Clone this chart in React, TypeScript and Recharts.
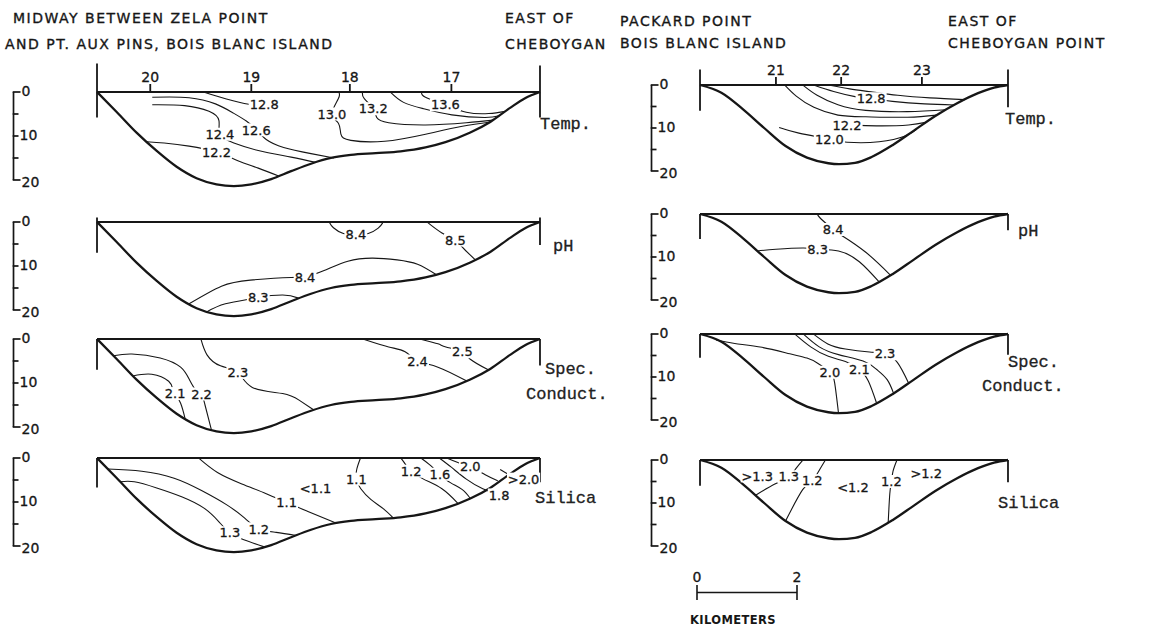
import React from 'react';
import { ComposedChart, Line, Scatter, XAxis, YAxis, ReferenceLine } from 'recharts';

type Pt = [number, number];
type Contour = { v: string; pts: Pt[] };
type Tag = { x: number; d: number; t: string };

const INK = '#161616';
const SANS = '"DejaVu Sans", Verdana, sans-serif';
const MONO = '"Liberation Mono", "DejaVu Sans Mono", monospace';
const MAX_DEPTH = 22;

// stations along the two transects (km from the west end of each section)
const zelaStations = [1.07, 3.1, 5.08, 7.12];
const zelaStationNames = ['20', '19', '18', '17'];
const packardStations = [1.42, 2.64, 4.15];
const packardStationNames = ['21', '22', '23'];
const depthTicks = [0, 5, 10, 15, 20];
const scaleKm = [0, 2];

// lake bottom, [km, depth m]
const zelaBottom: Pt[] = [
  [0, 0], [0.4, 4.6], [0.8, 9.3], [1.2, 13.4], [1.6, 17.0], [2.0, 19.6], [2.4, 21.0], [2.75, 21.4],
  [3.1, 21.0], [3.5, 19.8], [3.9, 18.0], [4.3, 16.3], [4.7, 15.0], [5.1, 14.3], [5.6, 13.9], [6.1, 13.5],
  [6.6, 12.6], [7.0, 11.4], [7.5, 9.2], [7.9, 6.8], [8.3, 3.6], [8.6, 1.4], [8.9, 0],
];
const packardBottom: Pt[] = [
  [0, 0], [0.4, 1.8], [0.8, 5.6], [1.2, 10.0], [1.6, 14.2], [2.0, 16.9], [2.4, 18.2], [2.6, 18.4],
  [2.9, 18.1], [3.2, 16.8], [3.6, 14.0], [4.0, 10.6], [4.4, 7.2], [4.8, 4.3], [5.2, 1.9], [5.5, 0.6], [5.76, 0],
];

// --- Zela Point section ---
const zelaTemp: Contour[] = [
  { v: '12.2', pts: [[1.0, 11.3], [1.35, 11.6], [1.85, 12.3], [2.4, 13.7], [2.83, 15.6], [3.24, 17.3], [3.65, 19.1]] },
  { v: '12.4', pts: [[1.11, 2.9], [1.76, 3.1], [2.25, 4.4], [2.45, 6.5], [2.47, 9.6], [2.75, 11.6], [3.24, 13.3], [3.9, 14.8], [4.39, 16.0]] },
  { v: '12.6', pts: [[1.11, 1.2], [1.85, 1.3], [2.38, 2.7], [2.71, 4.6], [3.0, 6.6], [3.2, 8.6], [3.4, 10.8], [3.75, 12.6], [4.3, 14.0], [4.76, 15.0]] },
  { v: '12.8', pts: [[2.17, 0.1], [2.6, 1.6], [3.05, 2.8], [3.3, 2.9]] },
  { v: '13.0', pts: [[4.86, 0.1], [4.85, 1.5], [4.72, 5.0], [4.85, 7.1], [4.9, 9.6], [5.1, 11.0], [5.78, 11.2], [6.6, 9.6], [7.34, 7.8], [7.9, 6.8]] },
  { v: '13.2', pts: [[5.33, 0.1], [5.37, 1.5], [5.55, 3.8], [5.62, 5.8], [5.86, 7.0], [6.6, 7.5], [7.42, 7.0], [7.96, 6.4]] },
  { v: '13.4', pts: [[5.9, 0.1], [6.15, 2.3], [6.56, 3.8], [7.13, 5.2], [7.79, 5.8], [8.08, 5.4]] },
  { v: '13.6', pts: [[6.52, 0.1], [6.6, 1.2], [7.0, 2.9], [7.42, 4.6], [7.87, 4.9], [8.2, 4.4]] },
];
const zelaTempTags: Tag[] = [
  { x: 2.4, d: 13.7, t: '12.2' }, { x: 2.47, d: 9.6, t: '12.4' }, { x: 3.2, d: 8.6, t: '12.6' },
  { x: 3.36, d: 2.9, t: '12.8' }, { x: 4.72, d: 5.0, t: '13.0' }, { x: 5.55, d: 3.8, t: '13.2' }, { x: 7.0, d: 2.9, t: '13.6' },
];

const zelaPH: Contour[] = [
  { v: '8.4', pts: [[4.67, 0.1], [4.75, 1.3], [4.95, 2.6], [5.2, 2.9], [5.45, 2.6], [5.65, 1.4], [5.74, 0.2]] },
  { v: '8.5', pts: [[6.64, 0.1], [6.93, 2.5], [7.2, 4.1], [7.34, 5.7], [7.6, 8.6]] },
  { v: '8.4', pts: [[1.85, 18.6], [2.5, 14.6], [3.08, 13.2], [3.9, 12.6], [4.18, 12.5], [4.55, 11.1], [5.04, 8.9], [5.54, 8.2], [6.03, 8.6], [6.44, 9.6], [6.82, 12.0]] },
  { v: '8.3', pts: [[2.21, 20.4], [2.58, 18.6], [3.08, 17.5], [3.24, 17.1], [3.73, 16.6], [4.05, 17.3]] },
];
const zelaPHTags: Tag[] = [
  { x: 5.2, d: 2.9, t: '8.4' }, { x: 7.2, d: 4.1, t: '8.5' }, { x: 4.18, d: 12.5, t: '8.4' }, { x: 3.24, d: 17.1, t: '8.3' },
];

const zelaCond: Contour[] = [
  { v: '2.1', pts: [[0.72, 8.4], [1.1, 8.0], [1.44, 9.6], [1.52, 11.4], [1.57, 12.4], [1.68, 14.6], [1.77, 18.1]] },
  { v: '2.2', pts: [[0.33, 3.8], [0.7, 3.4], [1.27, 4.3], [1.68, 6.4], [1.86, 9.3], [2.0, 11.8], [2.1, 12.5], [2.17, 15.0], [2.3, 20.7]] },
  { v: '2.3', pts: [[2.09, 0.1], [2.21, 3.6], [2.48, 6.1], [2.83, 7.6], [3.12, 11.0], [3.73, 12.4], [4.06, 13.9], [4.35, 16.1]] },
  { v: '2.4', pts: [[5.37, 0.1], [5.86, 1.8], [6.19, 2.9], [6.44, 5.0], [6.85, 6.4], [7.42, 9.5]] },
  { v: '2.5', pts: [[6.52, 0.1], [6.85, 1.1], [7.01, 1.8], [7.34, 2.9], [7.5, 4.6], [7.86, 7.0]] },
];
const zelaCondTags: Tag[] = [
  { x: 1.57, d: 12.4, t: '2.1' }, { x: 2.1, d: 12.5, t: '2.2' }, { x: 2.83, d: 7.6, t: '2.3' },
  { x: 6.44, d: 5.0, t: '2.4' }, { x: 7.34, d: 2.9, t: '2.5' },
];

const zelaSilica: Contour[] = [
  { v: '1.3', pts: [[0.47, 5.4], [0.75, 5.4], [1.2, 6.8], [1.7, 8.8], [2.15, 11.4], [2.45, 14.5], [2.67, 17.0], [2.95, 18.6], [3.36, 20.2]] },
  { v: '1.2', pts: [[0.22, 2.5], [0.9, 3.0], [1.55, 4.6], [2.1, 7.4], [2.6, 10.6], [2.95, 13.5], [3.25, 16.1], [3.6, 16.9], [4.0, 17.6]] },
  { v: '1.1', pts: [[2.05, 0.1], [2.42, 3.3], [2.91, 5.9], [3.4, 8.1], [3.81, 10.1], [4.25, 12.2], [4.8, 14.8]] },
  { v: '1.1', pts: [[5.29, 0.1], [5.22, 2.5], [5.21, 4.8], [5.3, 7.0], [5.5, 9.4], [5.75, 11.5], [5.95, 13.6]] },
  { v: '1.2', pts: [[6.11, 0.1], [6.2, 1.5], [6.31, 3.0], [6.56, 4.8], [6.93, 7.0], [7.25, 10.3]] },
  { v: '1.6', pts: [[6.52, 0.1], [6.68, 1.5], [6.89, 3.7], [7.1, 5.6], [7.34, 7.2], [7.5, 9.2]] },
  { v: '1.8', pts: [[6.89, 0.1], [7.13, 2.2], [7.42, 4.8], [7.75, 7.0], [8.08, 8.4]] },
  { v: '2.0', pts: [[7.05, 0.1], [7.25, 1.0], [7.5, 2.0], [7.8, 3.8], [8.05, 5.2]] },
  { v: '>2.0', pts: [[8.1, 2.6], [8.35, 4.3]] },
];
const zelaSilicaTags: Tag[] = [
  { x: 2.67, d: 17.0, t: '1.3' }, { x: 3.25, d: 16.1, t: '1.2' }, { x: 3.81, d: 10.1, t: '1.1' },
  { x: 4.39, d: 7.0, t: '<1.1' }, { x: 5.21, d: 4.8, t: '1.1' }, { x: 6.31, d: 3.0, t: '1.2' },
  { x: 6.89, d: 3.7, t: '1.6' }, { x: 7.5, d: 2.0, t: '2.0' }, { x: 8.08, d: 8.4, t: '1.8' }, { x: 8.57, d: 4.8, t: '>2.0' },
];

// --- Packard Point section ---
const packardTemp: Contour[] = [
  { v: '12.0', pts: [[1.48, 9.9], [1.85, 11.2], [2.42, 12.6], [2.75, 13.3], [3.35, 13.2], [3.85, 11.8], [4.05, 10.3]] },
  { v: '12.2', pts: [[2.6, 9.3], [2.75, 9.3], [3.3, 9.5], [3.9, 9.3], [4.22, 8.7]] },
  { v: '12.4', pts: [[1.59, 0.1], [1.8, 2.6], [2.13, 5.2], [2.58, 7.0], [3.1, 7.4], [3.88, 7.5], [4.42, 7.0]] },
  { v: '12.6', pts: [[1.93, 0.1], [2.19, 2.4], [2.58, 4.6], [3.1, 5.9], [3.88, 6.2], [4.6, 5.75]] },
  { v: '12.8', pts: [[2.15, 0.1], [2.5, 1.5], [2.9, 2.7], [3.2, 3.2], [3.6, 3.8], [4.2, 4.4], [4.75, 4.65]] },
  { v: '13.0', pts: [[2.45, 0.1], [2.8, 0.9], [3.2, 1.6], [3.7, 2.4], [4.3, 3.0], [4.95, 3.4]] },
];
const packardTempTags: Tag[] = [
  { x: 3.2, d: 3.2, t: '12.8' }, { x: 2.75, d: 9.3, t: '12.2' }, { x: 2.42, d: 12.6, t: '12.0' },
];

const packardPH: Contour[] = [
  { v: '8.4', pts: [[2.2, 0.1], [2.26, 1.1], [2.49, 3.6], [2.65, 5.0], [3.1, 8.9], [3.56, 14.2]] },
  { v: '8.3', pts: [[1.07, 8.6], [1.42, 8.2], [1.94, 7.9], [2.2, 8.2], [2.59, 8.6], [2.98, 11.1], [3.35, 15.8]] },
];
const packardPHTags: Tag[] = [{ x: 2.49, d: 3.6, t: '8.4' }, { x: 2.2, d: 8.2, t: '8.3' }];

const packardCond: Contour[] = [
  { v: '2.0', pts: [[0.3, 1.4], [0.65, 2.2], [1.16, 3.1], [1.68, 4.6], [2.0, 5.6], [2.2, 6.8], [2.43, 8.9], [2.52, 11.5], [2.59, 18.4]] },
  { v: '2.1', pts: [[1.78, 0.1], [2.07, 3.0], [2.4, 5.2], [2.72, 6.4], [2.98, 8.2], [3.15, 11.0], [3.3, 16.0]] },
  { v: '2.2', pts: [[1.94, 0.1], [2.23, 3.0], [2.59, 4.8], [3.05, 6.3], [3.3, 8.2], [3.5, 10.6], [3.62, 13.8]] },
  { v: '2.3', pts: [[2.13, 0.1], [2.39, 2.3], [2.72, 3.5], [3.17, 4.2], [3.46, 4.6], [3.69, 6.6], [3.9, 11.4]] },
];
const packardCondTags: Tag[] = [
  { x: 2.43, d: 8.9, t: '2.0' }, { x: 2.98, d: 8.2, t: '2.1' }, { x: 3.46, d: 4.6, t: '2.3' },
];

const packardSilica: Contour[] = [
  { v: '1.3', pts: [[1.92, 0.1], [1.8, 1.9], [1.66, 3.9], [1.4, 5.6], [1.04, 8.2]] },
  { v: '1.2', pts: [[2.34, 0.1], [2.22, 2.6], [2.1, 4.8], [1.92, 6.9], [1.6, 14.2]] },
  { v: '1.2', pts: [[3.68, 0.1], [3.61, 2.6], [3.58, 5.0], [3.55, 7.8], [3.52, 14.5]] },
];
const packardSilicaTags: Tag[] = [
  { x: 1.07, d: 3.7, t: '>1.3' }, { x: 1.66, d: 3.9, t: '1.3' }, { x: 2.1, d: 4.8, t: '1.2' },
  { x: 2.86, d: 6.3, t: '<1.2' }, { x: 3.58, d: 5.0, t: '1.2' }, { x: 4.23, d: 3.0, t: '>1.2' },
];

type Geo = { bracketX: number; frameL: number; frameR: number; xMax: number; ppm: number };
const ZELA: Geo = { bracketX: 12, frameL: 97, frameR: 540, xMax: 8.9, ppm: 4.4 };
const PACKARD: Geo = { bracketX: 650, frameL: 700, frameR: 1008, xMax: 5.76, ppm: 4.3 };

const charW = (c: string) => (c === '.' ? 0.32 : c === '<' || c === '>' ? 0.8 : 0.64);

function TagShape(p: any) {
  const t: string = p.payload.t;
  const w = t.split('').reduce((s, c) => s + charW(c) * 13, 0) + 2;
  return (
    <g>
      <rect x={p.cx - w / 2} y={p.cy - 6.5} width={w} height={13} fill="#fff" />
      <text
        x={p.cx}
        y={p.cy}
        dy="0.36em"
        textAnchor="middle"
        fontSize={13}
        fontFamily={SANS}
        fill={INK}
        stroke={INK}
        strokeWidth={0.3}
      >
        {t}
      </text>
    </g>
  );
}

function DepthTick(p: any) {
  const v: number = p.payload.value;
  const y: number = p.y;
  const x0 = 1.5;
  const len = v === 0 || v === 20 ? 7 : 5;
  return (
    <g>
      {v > 0 && <line x1={x0} x2={x0} y1={y} y2={y - p.step} stroke={INK} strokeWidth={1.7} />}
      <line x1={x0 - 0.8} x2={x0 + len} y1={y} y2={y} stroke={INK} strokeWidth={1.7} />
      {v % 10 === 0 && (
        <text
          x={x0 + len + 1}
          y={y + (v === 20 ? 2 : -1)}
          dy="0.36em"
          fontSize={14}
          fontFamily={SANS}
          fill={INK}
          stroke={INK}
          strokeWidth={0.3}
        >
          {v}
        </text>
      )}
    </g>
  );
}

type SectionProps = {
  geo: Geo;
  axisY: number;
  bottom: Pt[];
  contours: Contour[];
  tags: Tag[];
  stations: number[];
  names?: string[];
  bars: [number, number, number, number];
};

function Section({ geo, axisY, bottom, contours, tags, stations, names, bars }: SectionProps) {
  const xh = names ? 30 : 8;
  const head = names ? 34 : 10;
  const mr = 10;
  const mb = 8;
  const yw = geo.frameL - geo.bracketX;
  const plotW = geo.frameR - geo.frameL;
  const plotH = MAX_DEPTH * geo.ppm;
  const step = 5 * geo.ppm;
  return (
    <div style={{ position: 'absolute', left: geo.bracketX, top: axisY - head }}>
      <ComposedChart
        width={yw + plotW + mr}
        height={head + plotH + mb}
        margin={{ top: head - xh, right: mr, bottom: mb, left: 0 }}
      >
        <XAxis
          type="number"
          dataKey="x"
          orientation="top"
          domain={[0, geo.xMax]}
          ticks={stations}
          interval={0}
          height={xh}
          stroke={INK}
          strokeWidth={1.8}
          tickSize={names ? 8 : 5}
          tickMargin={2}
          tick={names ? { fontSize: 14, fontFamily: SANS, fill: INK, stroke: INK, strokeWidth: 0.3 } : false}
          tickFormatter={(_v: number, i: number) => (names ? names[i] : '')}
        />
        <YAxis
          type="number"
          dataKey="d"
          domain={[0, MAX_DEPTH]}
          reversed
          ticks={depthTicks}
          interval={0}
          width={yw}
          axisLine={false}
          tickLine={false}
          tick={(p: any) => <DepthTick {...p} step={step} />}
        />
        {contours.map((c, i) => (
          <Line
            key={c.v + i}
            data={c.pts.map(([x, d]) => ({ x, d }))}
            dataKey="d"
            type="natural"
            stroke={INK}
            strokeWidth={1.1}
            dot={false}
            activeDot={false}
            isAnimationActive={false}
          />
        ))}
        <Scatter data={tags} dataKey="d" shape={TagShape} isAnimationActive={false} />
        <ReferenceLine
          segment={[{ x: 0, y: bars[0] }, { x: 0, y: bars[1] }]}
          ifOverflow="visible"
          stroke={INK}
          strokeWidth={1.8}
        />
        <ReferenceLine
          segment={[{ x: geo.xMax, y: bars[2] }, { x: geo.xMax, y: bars[3] }]}
          ifOverflow="visible"
          stroke={INK}
          strokeWidth={1.8}
        />
        <Line
          data={bottom.map(([x, d]) => ({ x, d }))}
          dataKey="d"
          type="monotone"
          stroke={INK}
          strokeWidth={2.3}
          dot={false}
          activeDot={false}
          isAnimationActive={false}
        />
      </ComposedChart>
    </div>
  );
}

const txt = (left: number, cy: number, s: string, extra: React.CSSProperties = {}) => (
  <div
    key={s + left + cy}
    style={{
      position: 'absolute',
      left,
      top: cy - 9,
      lineHeight: '18px',
      whiteSpace: 'nowrap',
      fontFamily: SANS,
      fontSize: 14,
      letterSpacing: 1.5,
      color: INK,
      WebkitTextStroke: '0.35px #161616',
      ...extra,
    }}
  >
    {s}
  </div>
);

const mono = (left: number, cy: number, s: string) =>
  txt(left, cy, s, { fontFamily: MONO, fontSize: 17, letterSpacing: 0, color: '#222', WebkitTextStroke: '0.3px #222' });

export default function App() {
  return (
    <div
      style={{
        position: 'absolute',
        left: 0,
        top: 0,
        width: 1175,
        height: 637,
        background: '#fff',
        overflow: 'hidden',
      }}
    >
      {txt(13, 18, 'MIDWAY BETWEEN ZELA POINT')}
      {txt(5, 44, 'AND PT. AUX PINS, BOIS BLANC ISLAND')}
      {txt(505, 18, 'EAST OF')}
      {txt(505, 44, 'CHEBOYGAN')}
      {txt(620, 21, 'PACKARD POINT')}
      {txt(620, 43, 'BOIS BLANC ISLAND')}
      {txt(948, 21, 'EAST OF')}
      {txt(948, 43, 'CHEBOYGAN POINT')}

      <Section geo={ZELA} axisY={92} bottom={zelaBottom} contours={zelaTemp} tags={zelaTempTags}
        stations={zelaStations} names={zelaStationNames} bars={[-6.5, 5.8, -6.0, 5.8]} />
      <Section geo={ZELA} axisY={222} bottom={zelaBottom} contours={zelaPH} tags={zelaPHTags}
        stations={zelaStations} bars={[-1.0, 7.0, -1.0, 5.2]} />
      <Section geo={ZELA} axisY={339} bottom={zelaBottom} contours={zelaCond} tags={zelaCondTags}
        stations={zelaStations} bars={[0, 7.0, 0, 6.0]} />
      <Section geo={ZELA} axisY={458} bottom={zelaBottom} contours={zelaSilica} tags={zelaSilicaTags}
        stations={zelaStations} bars={[0, 6.7, 0, 5.5]} />

      <Section geo={PACKARD} axisY={85} bottom={packardBottom} contours={packardTemp} tags={packardTempTags}
        stations={packardStations} names={packardStationNames} bars={[-3.6, 6.0, -3.6, 5.2]} />
      <Section geo={PACKARD} axisY={214} bottom={packardBottom} contours={packardPH} tags={packardPHTags}
        stations={packardStations} bars={[0, 5.8, 0, 3.8]} />
      <Section geo={PACKARD} axisY={334} bottom={packardBottom} contours={packardCond} tags={packardCondTags}
        stations={packardStations} bars={[0, 5.5, 0, 4.8]} />
      <Section geo={PACKARD} axisY={460} bottom={packardBottom} contours={packardSilica} tags={packardSilicaTags}
        stations={packardStations} bars={[0, 6.0, 0, 5.2]} />

      {mono(540, 125, 'Temp.')}
      {mono(553, 247, 'pH')}
      {mono(545, 370, 'Spec.')}
      {mono(526, 395, 'Conduct.')}
      {mono(535, 499, 'Silica')}
      {mono(1005, 120, 'Temp.')}
      {mono(1018, 232, 'pH')}
      {mono(1008, 363, 'Spec.')}
      {mono(982, 387, 'Conduct.')}
      {mono(998, 504, 'Silica')}

      <div style={{ position: 'absolute', left: 688, top: 560 }}>
        <ComposedChart width={125} height={40} margin={{ top: 0, right: 16, bottom: 0, left: 9 }}>
          <XAxis
            type="number"
            dataKey="x"
            orientation="top"
            domain={[scaleKm[0], scaleKm[scaleKm.length - 1]]}
            ticks={scaleKm}
            interval={0}
            height={25}
            axisLine={false}
            tickLine={false}
            tickSize={0}
            tickMargin={3}
            tick={{ fontSize: 14, fontFamily: SANS, fill: INK, stroke: INK, strokeWidth: 0.3 }}
          />
          <YAxis hide type="number" dataKey="d" domain={[-1, 1]} />
          <Line
            data={scaleKm.map((k) => ({ x: k, d: 0 }))}
            dataKey="d"
            type="linear"
            stroke={INK}
            strokeWidth={1.3}
            dot={false}
            activeDot={false}
            isAnimationActive={false}
          />
          {scaleKm.map((k) => (
            <ReferenceLine
              key={k}
              segment={[{ x: k, y: -1 }, { x: k, y: 1 }]}
              ifOverflow="visible"
              stroke={INK}
              strokeWidth={1.6}
            />
          ))}
        </ComposedChart>
      </div>
      {txt(690, 620, 'KILOMETERS', { fontSize: 11.5, fontWeight: 'bold', letterSpacing: 0.4, WebkitTextStroke: '0px' })}
    </div>
  );
}
